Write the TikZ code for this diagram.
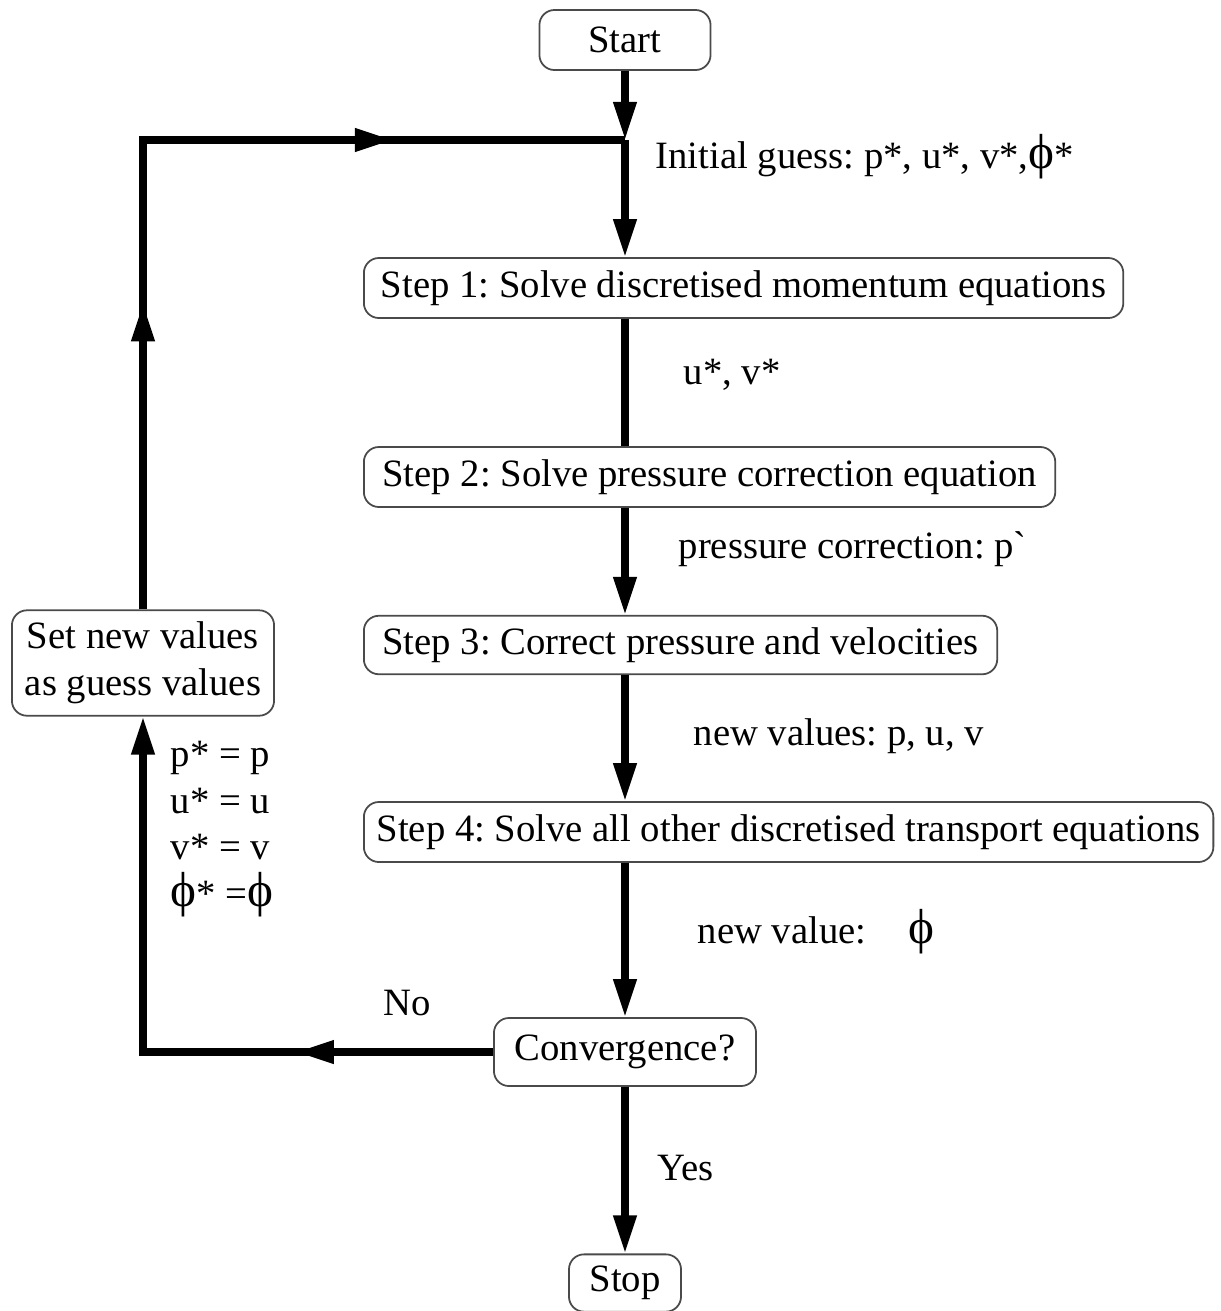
\documentclass[tikz,border=0pt]{standalone}
\usepackage{fontspec}
\setmainfont{Liberation Serif}
\usetikzlibrary{arrows.meta,positioning,decorations.markings}
\definecolor{rahmen}{HTML}{4A4A4A}
\newcommand{\phisym}{{\fontsize{14}{14}\selectfont ϕ}}
\frenchspacing

\begin{document}
\begin{tikzpicture}[
  x=0.01cm,y=-0.01cm,
  font=\fontsize{11}{13.3}\selectfont,
  box/.style={draw=rahmen,line width=0.5pt,rounded corners=0.15cm,minimum height=0.6cm,inner xsep=0.1cm,align=center},
  lbl/.style={inner sep=0pt,anchor=west,align=left},
  flow/.style={line width=2pt},
  arrow/.style={-{Triangle[length=0.38cm,width=0.22cm]}},
  midtip/.style={postaction={decorate,decoration={markings,mark=at position #1 with {\arrow{Triangle[length=0.38cm,width=0.22cm]}}}}}
]
  \useasboundingbox (0,0) rectangle (1220,1311);
  % main column
  \node[box,minimum width=1.71cm] (start) at (625,40) {Start};
  \coordinate (j) at (625,140);
  \node[box,anchor=west,minimum width=7.59cm] (s1) at (363,288) {Step 1: Solve discretised momentum equations};
  \node[box,anchor=west,minimum width=6.91cm] (s2) at (363,477) {Step 2: Solve pressure correction equation};
  \node[box,anchor=west,minimum width=6.33cm,minimum height=0.56cm] (s3) at (363,645) {Step 3: Correct pressure and velocities};
  \node[box,anchor=west,minimum width=8.49cm] (s4) at (363,832) {Step 4: Solve all other discretised transport equations};
  \node[box,minimum width=2.62cm,minimum height=0.68cm] (conv) at (625,1052) {Convergence?};
  \node[box,minimum width=1.12cm,minimum height=0.56cm] (stop) at (625,1283) {Stop};
  % loop back
  \node[box,minimum width=2.62cm,minimum height=1.01cm] (set) at (143,663) {Set new values\\as guess values};
  \coordinate (c1) at (set |- conv);
  \coordinate (c2) at (set |- j);
  % labels
  \node[lbl] (guess) at (655,157) {Initial guess: p*, u*, v*,\phisym*};
  \node[lbl] (uv) at (683,375) {u*, v*};
  \node[lbl] (pcorr) at (678,549) {pressure correction: p\textasciigrave};
  \node[lbl] (newv) at (693,736) {new values: p, u, v};
  \node[lbl] (newphi) at (697,932) {new value:\hspace{12pt}\phisym};
  \node[lbl] (no) at (383,1003) {No};
  \node[lbl] (yes) at (657,1168) {Yes};
  \node[lbl] (upd) at (170,829) {p* = p\\u* = u\\v* = v\\\phisym* =\phisym};
  % connectors
  \draw[flow,arrow] (start) -- (j);
  \draw[flow,arrow] (j) -- (s1.north -| j);
  \draw[flow] (s1.south -| j) -- (s2.north -| j);
  \draw[flow,arrow] (s2.south -| j) -- (s3.north -| j);
  \draw[flow,arrow] (s3.south -| j) -- (s4.north -| j);
  \draw[flow,arrow] (s4.south -| j) -- (conv);
  \draw[flow,arrow] (conv) -- (stop);
  \draw[flow,arrow,midtip=1.97cm] (conv) -- (c1) -- (set);
  \draw[flow,midtip=3.06cm,midtip=7.19cm] (set) -- (c2) -- (j);
\end{tikzpicture}
\end{document}
